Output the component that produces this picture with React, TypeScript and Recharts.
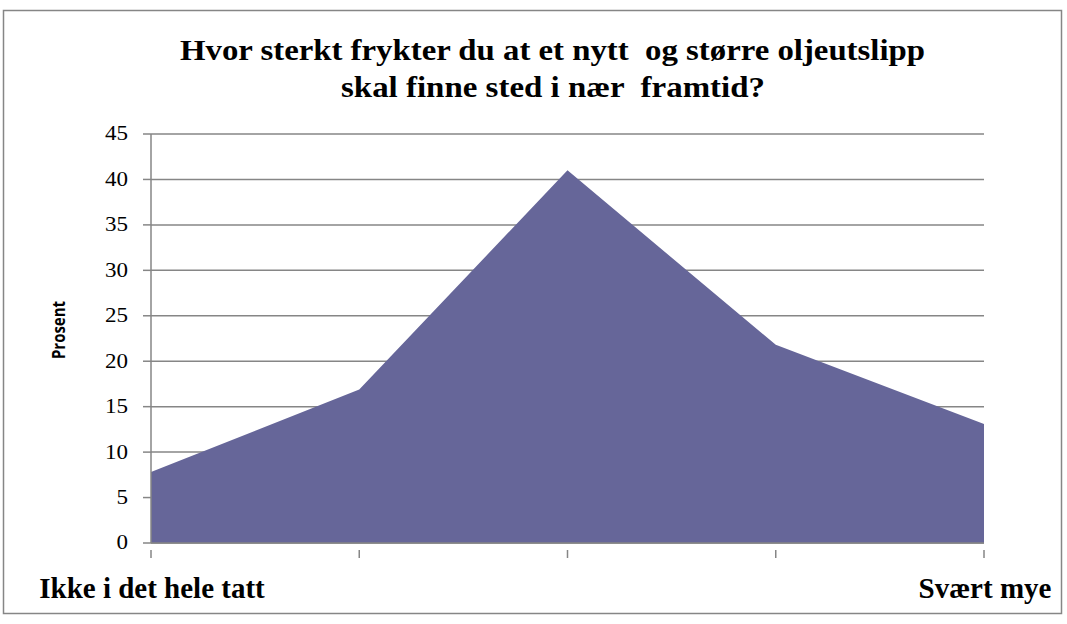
import { AreaChart, Area, XAxis, YAxis, CartesianGrid } from 'recharts'

const categories = ['1', '2', '3', '4', '5']
const prosent = [7.8, 16.9, 41, 21.8, 13.1]
const tickLabels = ['Ikke i det hele tatt', '', '', '', 'Svært mye']
const yTicks = [0, 5, 10, 15, 20, 25, 30, 35, 40, 45]
const titleLines = ['Hvor sterkt frykter du at et nytt  og større oljeutslipp', 'skal finne sted i nær  framtid?']

const data = categories.map((c, i) => ({ kategori: c, prosent: prosent[i] }))

const serif = 'Liberation Serif'
const grey = '#868686'

function CatTick(props: any) {
  const { x, y, payload } = props
  const label = tickLabels[payload.index] || ''
  return (
    <g>
      <line x1={x} x2={x} y1={y - 1} y2={y + 7} stroke={grey} strokeWidth={1.5} />
      {label && (
        <text x={x + 1} y={598} textAnchor="middle" fontFamily={serif} fontWeight="bold" fontSize={29} fill="#000">
          {label}
        </text>
      )}
    </g>
  )
}

function ValTick(props: any) {
  const { x, y, payload } = props
  return (
    <text
      transform={`translate(${x},${y}) scale(1.15,1)`}
      textAnchor="end"
      dominantBaseline="central"
      fontFamily={serif}
      fontSize={20}
      fill="#000"
    >
      {payload.value}
    </text>
  )
}

export default function App() {
  return (
    <div style={{ position: 'absolute', left: 0, top: 0, width: 1067, height: 624, background: '#fff' }}>
      <AreaChart
        width={1067}
        height={624}
        data={data}
        margin={{ top: 134, right: 83, bottom: 41, left: 91 }}
        style={{ position: 'absolute', left: 0, top: 0 }}
      >
        <CartesianGrid vertical={false} stroke={grey} strokeWidth={1.5} />
        <XAxis
          dataKey="kategori"
          height={40}
          axisLine={{ stroke: grey, strokeWidth: 1.5 }}
          tickLine={false}
          tick={<CatTick />}
          interval={0}
        />
        <YAxis
          width={60}
          domain={[0, 45]}
          ticks={yTicks}
          interval={0}
          axisLine={{ stroke: grey, strokeWidth: 1.5 }}
          tickLine={{ stroke: grey, strokeWidth: 1.5 }}
          tickSize={8}
          tickMargin={15}
          tick={<ValTick />}
        />
        <Area
          type="linear"
          dataKey="prosent"
          stroke="none"
          fill="#666699"
          fillOpacity={1}
          isAnimationActive={false}
        />
      </AreaChart>
      <svg width={1067} height={624} style={{ position: 'absolute', left: 0, top: 0, pointerEvents: 'none' }}>
        <rect x={3.5} y={10.5} width={1058} height={603} fill="none" stroke={grey} strokeWidth={1.5} />
        <text
          x={552.5}
          y={59.5}
          textAnchor="middle"
          fontFamily={serif}
          fontWeight="bold"
          fontSize={29}
          textLength={745}
          lengthAdjust="spacingAndGlyphs"
          style={{ whiteSpace: 'pre' }}
        >
          {titleLines[0]}
        </text>
        <text
          x={553}
          y={97}
          textAnchor="middle"
          fontFamily={serif}
          fontWeight="bold"
          fontSize={29}
          textLength={424}
          lengthAdjust="spacingAndGlyphs"
          style={{ whiteSpace: 'pre' }}
        >
          {titleLines[1]}
        </text>
        <text
          transform="translate(65,330) rotate(-90) scale(1,1.15)"
          textAnchor="middle"
          fontFamily="Open Sans"
          fontWeight="bold"
          fontSize={15}
        >
          Prosent
        </text>
      </svg>
    </div>
  )
}
